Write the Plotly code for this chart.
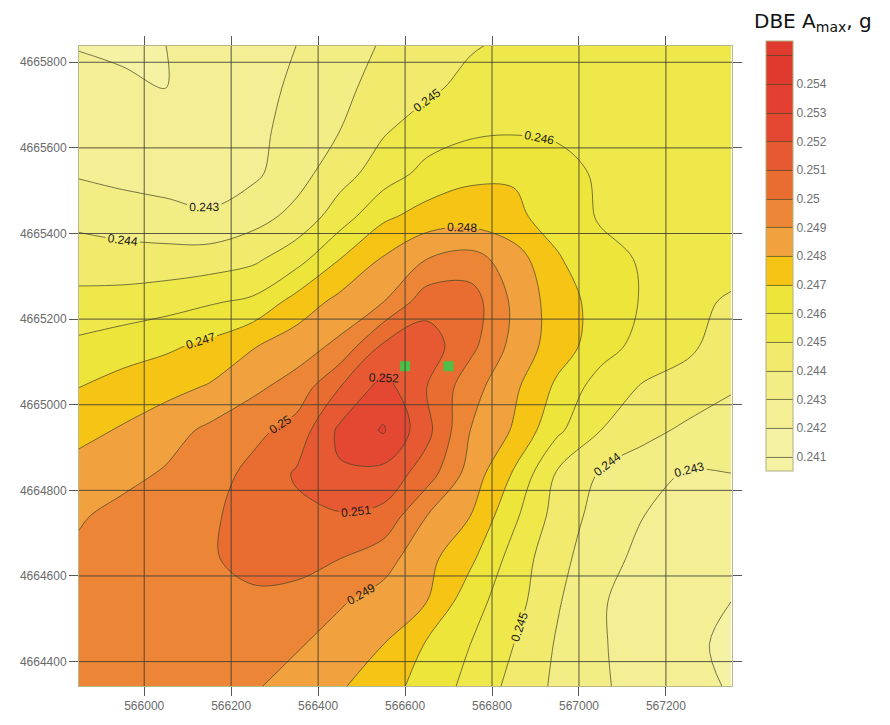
import plotly.graph_objects as go

# Easting / northing of the grid nodes (m)
easting = [565850, 565950, 566050, 566150, 566250, 566350, 566450, 566550,
           566650, 566750, 566850, 566950, 567050, 567150, 567250, 567350]
northing_n_to_s = [4665840, 4665740, 4665640, 4665540, 4665440, 4665340, 4665240, 4665140,
                   4665040, 4664940, 4664840, 4664740, 4664640, 4664540, 4664440, 4664340]

# DBE Amax (g) at the grid nodes, rows listed north to south, columns west to east
amax_rows = [
    [0.2419, 0.2419, 0.2420, 0.2423, 0.2427, 0.2430, 0.2435, 0.2441, 0.2444, 0.2449, 0.2452, 0.2454, 0.2455, 0.2456, 0.2456, 0.2456],
    [0.2426, 0.2421, 0.2420, 0.2423, 0.2426, 0.2432, 0.2438, 0.2443, 0.2448, 0.2453, 0.2456, 0.2457, 0.2457, 0.2457, 0.2457, 0.2457],
    [0.2427, 0.2424, 0.2423, 0.2424, 0.2427, 0.2434, 0.2440, 0.2449, 0.2455, 0.2458, 0.2459, 0.2458, 0.2457, 0.2456, 0.2456, 0.2456],
    [0.2429, 0.2427, 0.2426, 0.2426, 0.2428, 0.2436, 0.2446, 0.2455, 0.2463, 0.2468, 0.2469, 0.2465, 0.2458, 0.2456, 0.2455, 0.2455],
    [0.2437, 0.2435, 0.2433, 0.2431, 0.2436, 0.2443, 0.2455, 0.2468, 0.2474, 0.2475, 0.2472, 0.2466, 0.2459, 0.2457, 0.2456, 0.2455],
    [0.2445, 0.2444, 0.2444, 0.2445, 0.2448, 0.2456, 0.2470, 0.2481, 0.2490, 0.2494, 0.2485, 0.2471, 0.2463, 0.2459, 0.2455, 0.2453],
    [0.2453, 0.2454, 0.2456, 0.2459, 0.2462, 0.2474, 0.2483, 0.2490, 0.2506, 0.2505, 0.2488, 0.2475, 0.2466, 0.2459, 0.2452, 0.2449],
    [0.2462, 0.2465, 0.2468, 0.2472, 0.2479, 0.2485, 0.2492, 0.2511, 0.2515, 0.2503, 0.2487, 0.2475, 0.2465, 0.2456, 0.2452, 0.2445],
    [0.2470, 0.2474, 0.2477, 0.2481, 0.2488, 0.2494, 0.2510, 0.2524, 0.2510, 0.2494, 0.2482, 0.2468, 0.2455, 0.2449, 0.2446, 0.2441],
    [0.2477, 0.2481, 0.2486, 0.2492, 0.2497, 0.2504, 0.2522, 0.2531, 0.2513, 0.2490, 0.2479, 0.2462, 0.2450, 0.2443, 0.2438, 0.2435],
    [0.2484, 0.2487, 0.2491, 0.2495, 0.2503, 0.2511, 0.2519, 0.2517, 0.2505, 0.2486, 0.2469, 0.2449, 0.2439, 0.2434, 0.2429, 0.2430],
    [0.2489, 0.2493, 0.2496, 0.2498, 0.2505, 0.2508, 0.2509, 0.2507, 0.2490, 0.2480, 0.2462, 0.2446, 0.2436, 0.2430, 0.2426, 0.2425],
    [0.2492, 0.2495, 0.2497, 0.2499, 0.2503, 0.2503, 0.2500, 0.2494, 0.2483, 0.2472, 0.2456, 0.2443, 0.2434, 0.2427, 0.2423, 0.2422],
    [0.2494, 0.2496, 0.2497, 0.2498, 0.2498, 0.2497, 0.2491, 0.2486, 0.2480, 0.2464, 0.2454, 0.2441, 0.2431, 0.2425, 0.2421, 0.2420],
    [0.2496, 0.2497, 0.2497, 0.2497, 0.2495, 0.2491, 0.2486, 0.2480, 0.2469, 0.2460, 0.2450, 0.2439, 0.2431, 0.2425, 0.2421, 0.2419],
    [0.2496, 0.2496, 0.2495, 0.2493, 0.2491, 0.2486, 0.2481, 0.2474, 0.2466, 0.2457, 0.2447, 0.2438, 0.2431, 0.2427, 0.2424, 0.2419],
]

# Site locations (green squares)
site_easting = [566600, 566700]
site_northing = [4665090, 4665090]

# Contour levels and band colours (lowest band first)
level_start, level_end, level_step = 0.241, 0.255, 0.001
level_ticks = [0.241, 0.242, 0.243, 0.244, 0.245, 0.246, 0.247,
               0.248, 0.249, 0.25, 0.251, 0.252, 0.253, 0.254]
level_labels = ["0.241", "0.242", "0.243", "0.244", "0.245", "0.246", "0.247",
                "0.248", "0.249", "0.25", "0.251", "0.252", "0.253", "0.254"]
band_colors = ["#F6F2A4", "#F4EF94", "#F3ED86", "#F1EA6C", "#EFE84A", "#EEE53A",
               "#F5C415", "#F1A23E", "#EC8535", "#E96D30", "#E65932", "#E44832",
               "#E23F30", "#E03A2E"]

x_ticks = [566000, 566200, 566400, 566600, 566800, 567000, 567200]
y_ticks = [4664400, 4664600, 4664800, 4665000, 4665200, 4665400, 4665600, 4665800]

northing = northing_n_to_s[::-1]
amax = amax_rows[::-1]

# Colour map: plotly samples fills at band mid-levels; n bands plus the
# out-of-range caps give n + 2 evenly spaced stops.
stops = [band_colors[0]] + band_colors + [band_colors[-1]]
n = len(stops) - 1
colorscale = [[i / n, c] for i, c in enumerate(stops)]

fig = go.Figure()

fig.add_trace(go.Contour(
    x=easting, y=northing, z=amax,
    colorscale=colorscale,
    autocontour=False,
    contours=dict(start=level_start, end=level_end, size=level_step,
                  coloring="fill", showlabels=True,
                  labelfont=dict(size=12, color="#1a1a1a", family="Liberation Sans")),
    line=dict(color="rgba(70,70,40,0.8)", width=0.9, smoothing=1.0),
    colorbar=dict(
        x=1.052, xanchor="left", xpad=0,
        y=(693 - 41) / 647, yanchor="top", ypad=0,
        len=430, lenmode="pixels",
        thickness=27, thicknessmode="pixels",
        tickvals=level_ticks, ticktext=level_labels,
        ticks="", tickfont=dict(size=12, color="#707070", family="Liberation Sans"),
        outlinewidth=1, outlinecolor="#B0B080",
    ),
    hoverinfo="skip",
))

fig.add_trace(go.Scatter(
    x=site_easting, y=site_northing, mode="markers",
    marker=dict(symbol="square", size=10, color="#4CBF48"),
    showlegend=False, hoverinfo="skip",
))

# Grid lines drawn on top of the filled contours
grid_style = dict(color="rgba(60,60,50,0.85)", width=1)
shapes = []
for xv in x_ticks:
    shapes.append(dict(type="line", layer="above", xref="x", yref="y domain",
                       x0=xv, x1=xv, y0=0, y1=1, line=grid_style))
for yv in y_ticks:
    shapes.append(dict(type="line", layer="above", xref="x domain", yref="y",
                       x0=0, x1=1, y0=yv, y1=yv, line=grid_style))

axis_common = dict(
    showgrid=False, zeroline=False,
    ticks="outside", ticklen=9, tickwidth=1, tickcolor="rgba(60,60,50,0.85)",
    mirror="ticks", showline=True, linecolor="#B8B890", linewidth=1,
    tickfont=dict(size=12, color="#6a6a6a", family="Liberation Sans"),
    tickformat="d",
)

fig.update_layout(
    width=890, height=725,
    margin=dict(l=79, r=158, t=46, b=32),
    paper_bgcolor="white", plot_bgcolor="white",
    showlegend=False,
    xaxis=dict(range=[565850, 567352], tickvals=x_ticks, **axis_common),
    yaxis=dict(range=[4664343, 4665838], tickvals=y_ticks, **axis_common),
    shapes=shapes,
    annotations=[dict(
        text="DBE A<sub>max</sub>, g", xref="paper", yref="paper",
        x=(752 - 79) / 653, y=(693 - 22) / 647, xanchor="left", yanchor="middle",
        showarrow=False, font=dict(size=20, color="#111111", family="DejaVu Sans"),
    )],
)

fig.write_html("out.html")
